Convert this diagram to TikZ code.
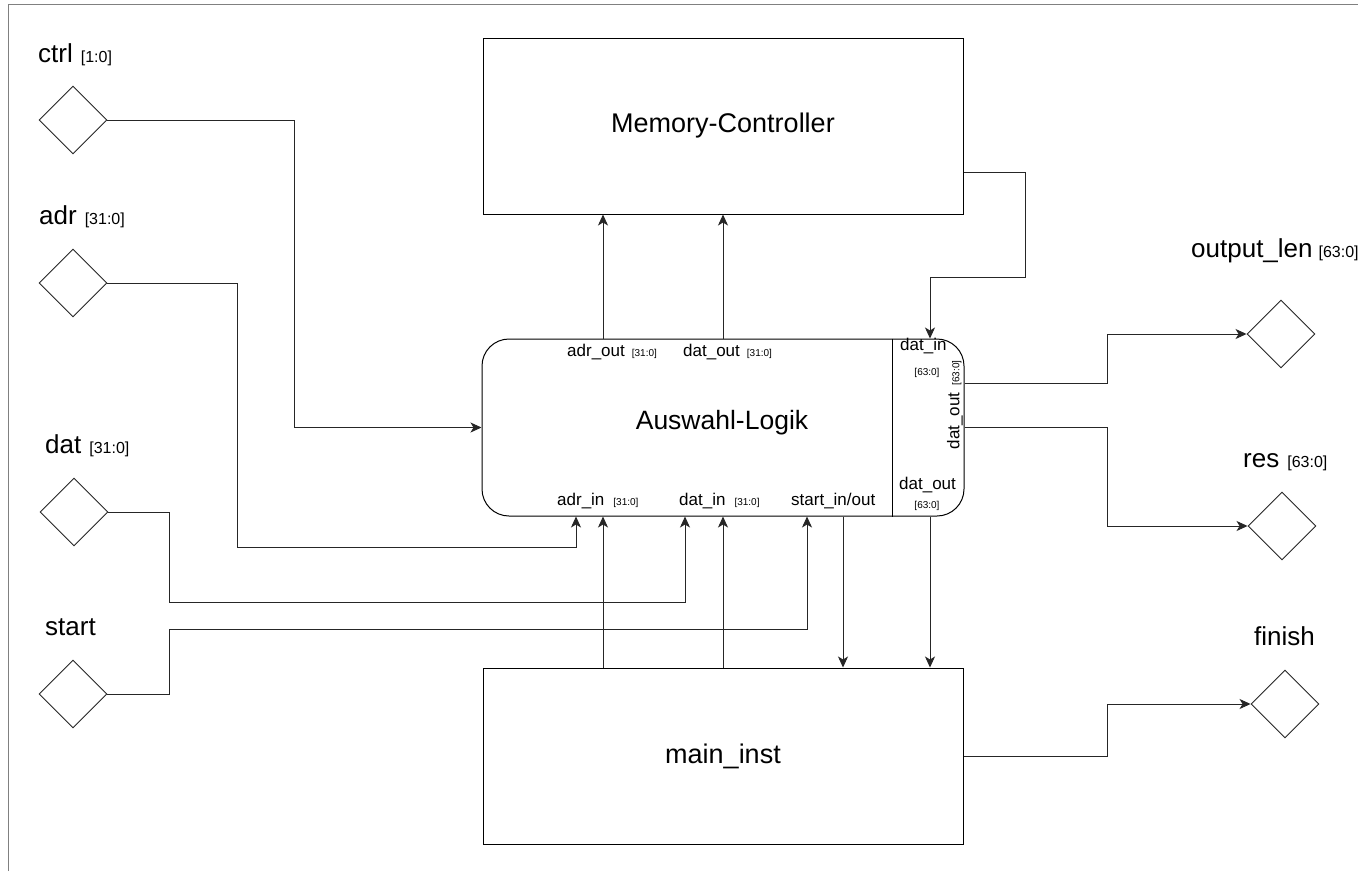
\documentclass[tikz,border=0pt]{standalone}
\usepackage{fontspec}
\setmainfont{Liberation Sans}
\usetikzlibrary{shapes.geometric,arrows.meta}
\newcommand\fsz[1]{\fontsize{#1}{#1}\selectfont}
\tikzset{
  block/.style={draw=black,line width=1pt,rectangle,minimum width=480pt,minimum height=176pt,inner sep=0pt,font=\fsz{27}},
  port/.style={draw=black!85,line width=0.9pt,diamond,minimum width=68pt,minimum height=68pt,inner sep=0pt},
  conn/.style={draw=black!85,line width=0.9pt},
  arr/.style={-{Stealth[length=11pt,width=10pt,inset=3pt]}},
  biglabel/.style={anchor=base west,inner sep=0pt,font=\fsz{26}},
  pinlabel/.style={anchor=base west,inner sep=0pt,font=\fsz{17}},
  frameline/.style={draw=black!50,line width=1.3pt}
}
\begin{document}
\begin{tikzpicture}[x=1pt,y=-1pt]
\useasboundingbox (0,0) rectangle (1358,871);
\fill[white] (0,0) rectangle (1358,871);

% outer sheet border
\draw[frameline] (8.5,871) -- (8.5,4.5) -- (1358,4.5);

% blocks
\node[block] (mem) at (723,126) {Memory-Controller};
\node[block] (main) at (723,756) {main\_inst};
\node[block,minimum width=482pt,minimum height=177pt,rounded corners=27pt] (sel) at (723,427.5) {};
\node[inner sep=0pt,font=\fsz{26.5}] (seltitle) at (722,423) {Auswahl-Logik};
\draw[line width=1pt] (892,0 |- sel.north) -- (892,0 |- sel.south);

% pin labels of the selection logic
\node[pinlabel] (l1) at (567,356) {adr\_out\hspace{7pt}{\fsz{10}[31:0]}};
\node[pinlabel] (l2) at (683,356) {dat\_out\hspace{7pt}{\fsz{10}[31:0]}};
\node[pinlabel] (l3) at (557,505) {adr\_in\hspace{9pt}{\fsz{10}[31:0]}};
\node[pinlabel] (l4) at (679,505) {dat\_in\hspace{9pt}{\fsz{10}[31:0]}};
\node[pinlabel] (l5) at (791,505) {start\_in/out};
\node[pinlabel] (l6) at (900,350) {dat\_in};
\node[inner sep=0pt,font=\fsz{10}] (l7) at (927,373) {[63:0]};
\node[pinlabel] (l8) at (899,489) {dat\_out};
\node[inner sep=0pt,font=\fsz{10}] (l9) at (927,506) {[63:0]};
\node[inner sep=0pt,font=\fsz{17},rotate=90] (l10) at (955,405) {dat\_out\hspace{7pt}{\fsz{10}[63:0]}};

% ports
\node[port] (ctrl) at (73,120) {};
\node[port] (adr) at (73,283) {};
\node[port] (dat) at (74,512) {};
\node[port] (start) at (73,694) {};
\node[port] (olen) at (1281,334) {};
\node[port] (res) at (1282,526) {};
\node[port] (finish) at (1285,704) {};

\node[biglabel] (ctrl-l) at (38,62) {ctrl\hspace{8pt}{\fsz{16}[1:0]}};
\node[biglabel] (adr-l) at (39,224) {adr\hspace{8pt}{\fsz{16}[31:0]}};
\node[biglabel] (dat-l) at (45,453) {dat\hspace{8pt}{\fsz{16}[31:0]}};
\node[biglabel] (start-l) at (45,635) {start};
\node[biglabel] (olen-l) at (1191,257) {output\_len\hspace{6pt}{\fsz{16}[63:0]}};
\node[biglabel] (res-l) at (1243,467) {res\hspace{8pt}{\fsz{16}[63:0]}};
\node[biglabel] (finish-l) at (1254,645) {finish};

% inputs into the selection logic
\draw[conn,arr] (ctrl.east) -| (294,0 |- sel.west) -- (sel.west);
\draw[conn,arr] (adr.east) -| (237,547) -| (576,0 |- sel.south);
\draw[conn,arr] (dat.east) -| (169,602) -| (685,0 |- sel.south);
\draw[conn,arr] (start.east) -| (169,629) -| (807,0 |- sel.south);

% selection logic <-> main instance
\draw[conn,arr] (603,0 |- main.north) -- (603,0 |- sel.south);
\draw[conn,arr] (723,0 |- main.north) -- (723,0 |- sel.south);
\draw[conn,arr] (843,0 |- sel.south) -- (843,0 |- main.north);
\draw[conn,arr] (930,0 |- sel.south) -- (930,0 |- main.north);

% selection logic <-> memory controller
\draw[conn,arr] (603,0 |- sel.north) -- (603,0 |- mem.south);
\draw[conn,arr] (723,0 |- sel.north) -- (723,0 |- mem.south);
\draw[conn,arr] (mem.east |- 0,172) -| (1025,277) -| (930,0 |- sel.north);

% outputs
\draw[conn,arr] (sel.east |- 0,383) -| (1107,0 |- olen.west) -- (olen.west);
\draw[conn,arr] (sel.east |- 0,427) -| (1107,0 |- res.west) -- (res.west);
\draw[conn,arr] (main.east) -| (1107,0 |- finish.west) -- (finish.west);
\end{tikzpicture}
\end{document}
